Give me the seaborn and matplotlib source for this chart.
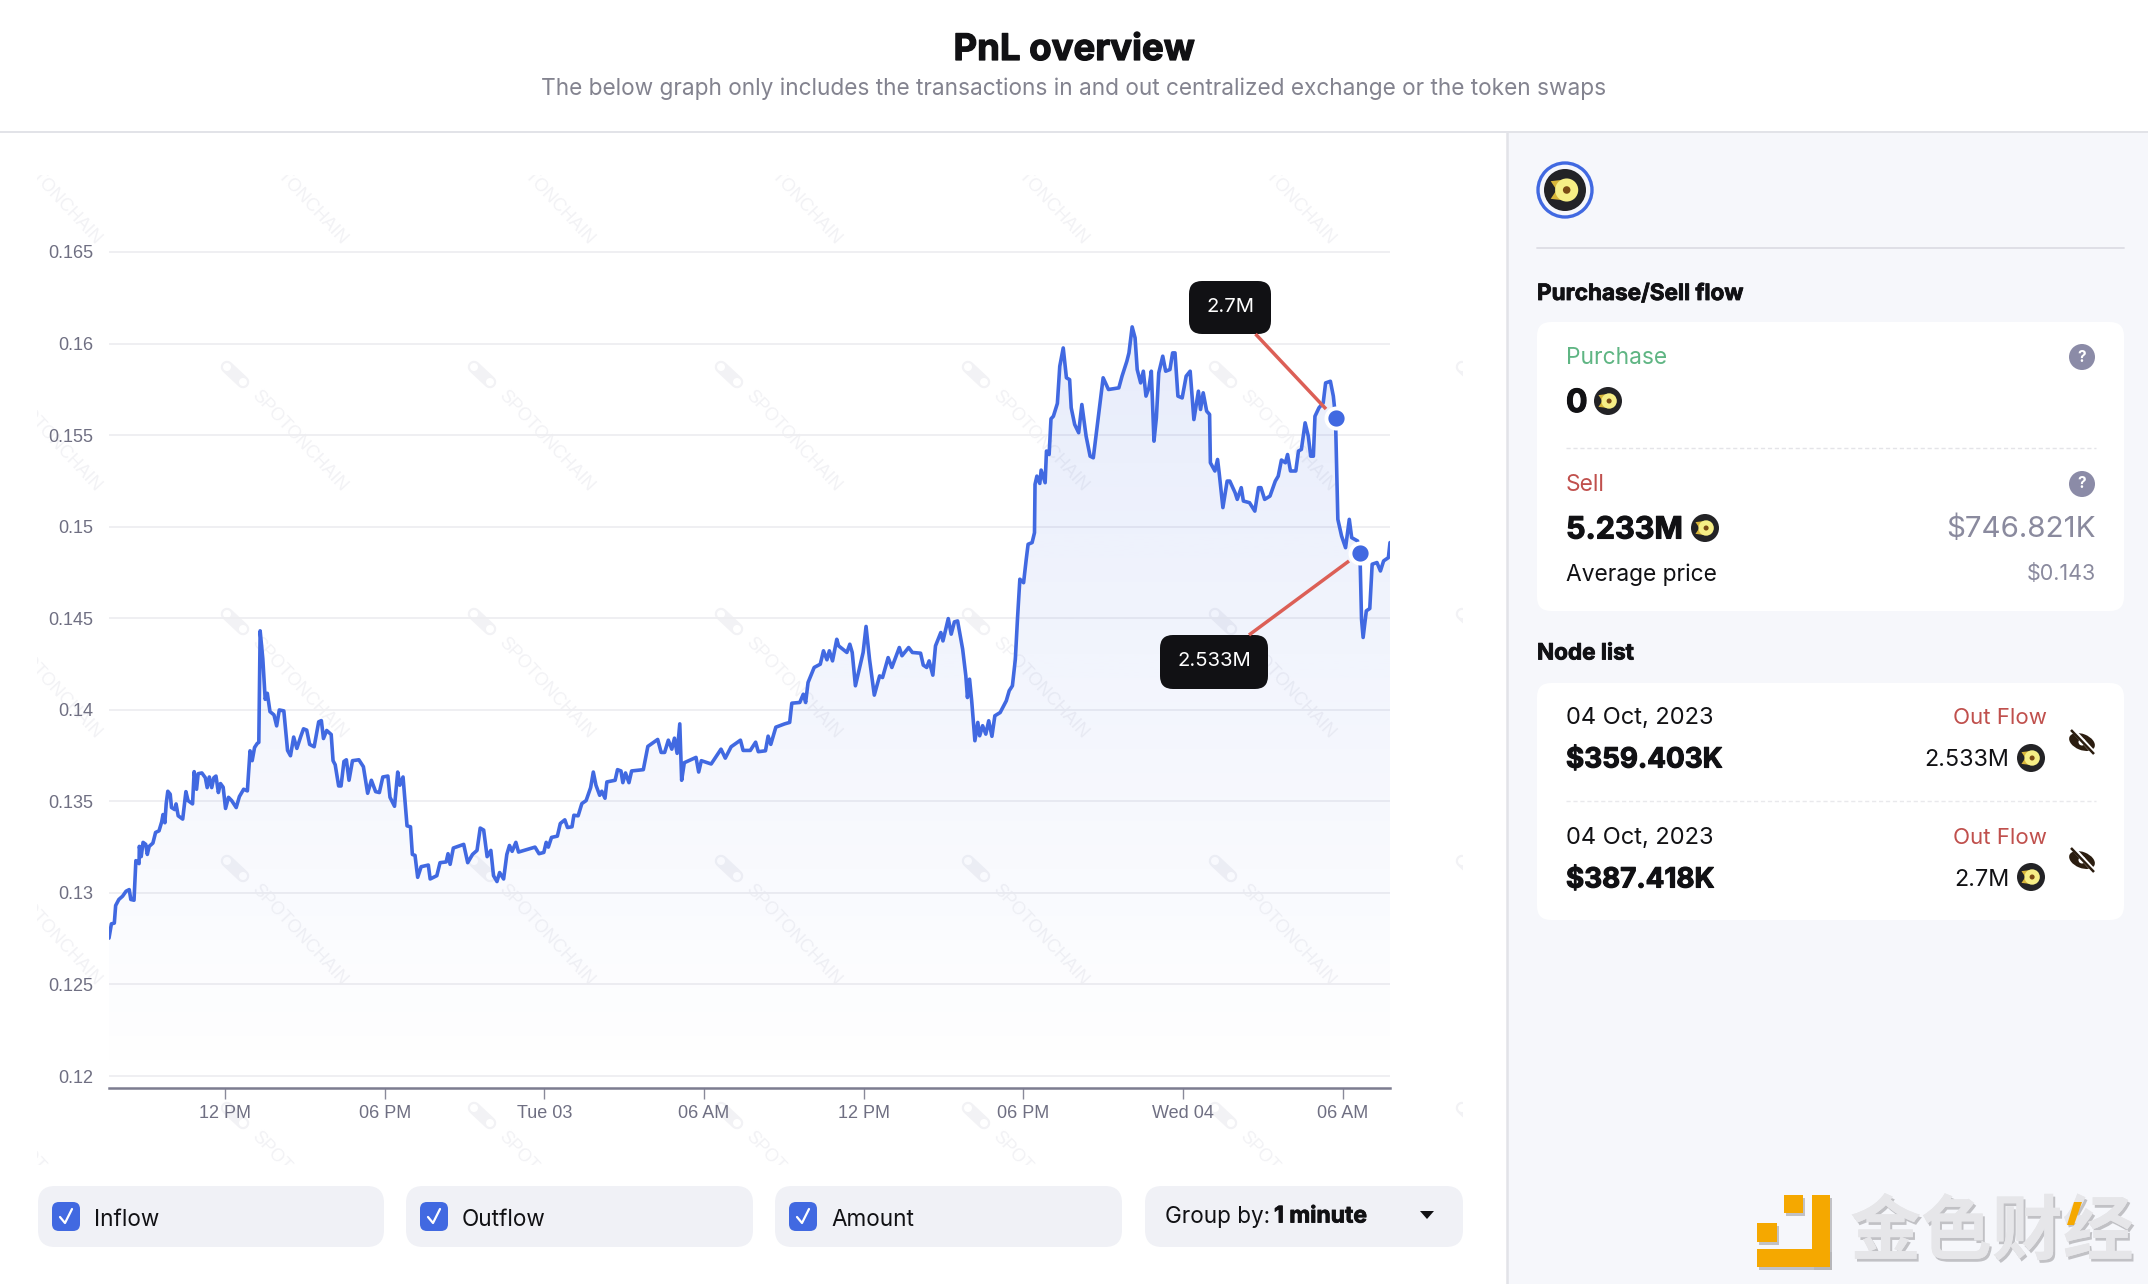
import numpy as np
import pandas as pd
import matplotlib
matplotlib.use("Agg")
import matplotlib.pyplot as plt
import matplotlib.patheffects as pe
import seaborn as sns
from matplotlib.patches import FancyBboxPatch, Circle, Rectangle, Polygon, Ellipse

sns.set_theme(style="white")
plt.rcParams["font.family"] = ["Inter", "DejaVu Sans"]

# hours since Monday 00:00
hours = [
    7.64, 7.73, 7.84, 7.89, 8.01, 8.15, 8.28, 8.40, 8.46, 8.58, 8.65, 8.77, 8.78, 8.85, 8.92, 9.02, 9.08, 9.15, 9.29,
    9.39, 9.52, 9.62, 9.67, 9.74, 9.79, 9.85, 9.94, 9.99, 10.11, 10.16, 10.24, 10.41, 10.53, 10.61, 10.78, 10.84,
    10.93, 10.99, 11.13, 11.26, 11.33, 11.41, 11.50, 11.58, 11.66, 11.75, 11.83, 11.93, 12.02, 12.13, 12.25, 12.42,
    12.54, 12.70, 12.84, 12.94, 13.02, 13.11, 13.21, 13.27, 13.32, 13.42, 13.51, 13.59, 13.69, 13.84, 13.94, 14.04,
    14.21, 14.35, 14.46, 14.58, 14.70, 14.85, 14.95, 15.07, 15.18, 15.35, 15.52, 15.62, 15.70, 15.82, 15.99, 16.06,
    16.14, 16.27, 16.36, 16.47, 16.56, 16.66, 16.79, 17.03, 17.20, 17.36, 17.50, 17.66, 17.80, 17.93, 18.12, 18.20,
    18.37, 18.49, 18.57, 18.69, 18.84, 18.97, 19.04, 19.14, 19.24, 19.37, 19.64, 19.71, 19.96, 20.08, 20.31, 20.38,
    20.46, 20.58, 20.97, 21.12, 21.30, 21.47, 21.59, 21.72, 21.85, 21.99, 22.09, 22.22, 22.32, 22.47, 22.59, 22.69,
    22.79, 22.93, 23.03, 23.65, 23.80, 23.98, 24.07, 24.15, 24.27, 24.49, 24.60, 24.77, 24.87, 25.04, 25.11, 25.27,
    25.41, 25.57, 25.74, 25.84, 25.94, 26.08, 26.16, 26.28, 26.35, 26.66, 26.75, 26.88, 26.95, 27.05, 27.18, 27.28,
    27.72, 27.89, 28.26, 28.39, 28.52, 28.66, 28.79, 28.89, 28.99, 29.09, 29.16, 29.26, 29.70, 29.80, 29.90, 30.27,
    30.64, 30.80, 31.02, 31.37, 31.47, 31.74, 31.94, 32.04, 32.31, 32.41, 32.51, 32.70, 33.03, 33.22, 33.30, 33.60,
    33.73, 33.82, 33.91, 34.14, 34.37, 34.49, 34.62, 34.71, 34.83, 34.99, 35.06, 35.37, 35.48, 35.57, 35.69, 35.98,
    36.09, 36.22, 36.40, 36.60, 36.71, 36.92, 37.06, 37.34, 37.44, 37.69, 37.83, 38.14, 38.24, 38.37, 38.46, 38.60,
    38.70, 38.90, 38.98, 39.18, 39.29, 39.41, 39.53, 39.72, 39.84, 39.90, 39.98, 40.06, 40.18, 40.29, 40.36, 40.47,
    40.59, 40.70, 40.82, 40.93, 41.13, 41.36, 41.47, 41.59, 41.70, 41.78, 41.87, 42.01, 42.11, 42.18, 42.33, 42.42,
    42.44, 42.51, 42.62, 42.67, 42.82, 42.87, 42.97, 43.04, 43.13, 43.28, 43.37, 43.50, 43.62, 43.74, 43.80, 43.93,
    44.08, 44.20, 44.36, 44.51, 44.63, 44.79, 44.91, 45.00, 45.20, 45.59, 45.71, 45.89, 45.97, 46.09, 46.20, 46.28,
    46.41, 46.51, 46.61, 46.72, 46.81, 46.91, 47.00, 47.09, 47.24, 47.35, 47.51, 47.61, 47.70, 47.81, 47.97, 48.12,
    48.27, 48.41, 48.58, 48.66, 48.76, 48.89, 49.00, 49.03, 49.20, 49.30, 49.36, 49.50, 49.66, 49.76, 49.96, 50.04,
    50.19, 50.27, 50.50, 50.70, 50.84, 50.93, 51.07, 51.27, 51.47, 51.58, 51.70, 51.85, 51.93, 52.04, 52.24, 52.34,
    52.45, 52.59, 52.71, 52.80, 52.90, 52.96, 53.11, 53.27, 53.36, 53.54, 53.65, 53.73, 53.82, 53.96, 54.11, 54.25,
    54.34, 54.56, 54.65, 54.71, 54.77, 54.89, 55.02, 55.11, 55.29, 55.42, 55.54, 55.72, 55.78,
]
prices = [
    .12753, .12831, .12835, .12931, .12964, .12982, .13009, .13018, .12964, .12960, .13176, .13160, .13254, .13198,
    .13276, .13265, .13210, .13254, .13272, .13330, .13339, .13388, .13428, .13383, .13488, .13555, .13539, .13466,
    .13455, .13486, .13421, .13403, .13553, .13504, .13486, .13662, .13566, .13651, .13655, .13629, .13575, .13633,
    .13575, .13629, .13638, .13548, .13597, .13577, .13461, .13522, .13504, .13466, .13526, .13566, .13557, .13776,
    .13722, .13794, .13816, .13822, .14431, .14279, .14057, .14090, .13990, .13972, .13912, .13999, .13994, .13778,
    .13749, .13851, .13789, .13856, .13896, .13889, .13811, .13798, .13934, .13941, .13843, .13887, .13865, .13722,
    .13700, .13584, .13584, .13718, .13727, .13615, .13722, .13727, .13689, .13544, .13615, .13553, .13548, .13633,
    .13638, .13522, .13473, .13660, .13588, .13633, .13366, .13361, .13210, .13205, .13085, .13143, .13152, .13076,
    .13094, .13165, .13169, .13214, .13156, .13245, .13265, .13165, .13210, .13232, .13354, .13343, .13198, .13232,
    .13094, .13062, .13111, .13076, .13210, .13259, .13227, .13276, .13223, .13250, .13214, .13221, .13276, .13250,
    .13303, .13310, .13379, .13399, .13357, .13361, .13424, .13421, .13488, .13504, .13575, .13660, .13588, .13533,
    .13555, .13517, .13606, .13615, .13673, .13666, .13602, .13655, .13602, .13666, .13673, .13800, .13838, .13767,
    .13767, .13834, .13785, .13845, .13762, .13923, .13615, .13711, .13740, .13660, .13722, .13704, .13785, .13736,
    .13798, .13834, .13778, .13778, .13823, .13771, .13776, .13856, .13811, .13905, .13923, .13931, .14036, .14040,
    .14085, .14040, .14149, .14231, .14249, .14322, .14273, .14322, .14267, .14385, .14349, .14313, .14358, .14313,
    .14131, .14313, .14455, .14276, .14080, .14185, .14176, .14285, .14231, .14340, .14295, .14340, .14313, .14309,
    .14244, .14231, .14267, .14189, .14349, .14422, .14376, .14498, .14413, .14480, .14485, .14331, .14185, .14067,
    .14167, .14049, .13831, .13931, .13858, .13913, .13867, .13940, .13855, .13967, .13985, .14049, .14104, .14131,
    .14276, .14495, .14713, .14694, .14822, .14904, .14913, .14967, .15231, .15276, .15236, .15309, .15240, .15413,
    .15394, .15589, .15603, .15673, .15876, .15976, .15813, .15803, .15649, .15558, .15513, .15667, .15494, .15385,
    .15376, .15567, .15713, .15813, .15749, .15758, .15822, .15903, .15949, .16091, .16031, .15858, .15785, .15849,
    .15713, .15758, .15849, .15467, .15594, .15840, .15931, .15849, .15858, .15949, .15949, .15713, .15703, .15822,
    .15849, .15585, .15740, .15640, .15731, .15631, .15613, .15349, .15304, .15367, .15294, .15104, .15249, .15249,
    .15185, .15149, .15213, .15140, .15131, .15085, .15213, .15213, .15149, .15167, .15249, .15276, .15364, .15349,
    .15394, .15304, .15304, .15413, .15422, .15567, .15494, .15385, .15385, .15603, .15649, .15676, .15785, .15794,
    .15713, .15603, .15040, .14949, .14885, .15040, .14940, .14922, .14858, .14495, .14395, .14540, .14553, .14795,
    .14804, .14758, .14813, .14831, .14913,
]
node_hours = [53.74, 54.64]
node_prices = [0.15595, 0.14858]

x_ticks = [12, 18, 24, 30, 36, 42, 48, 54]
x_labels = ["12 PM", "06 PM", "Tue 03", "06 AM", "12 PM", "06 PM", "Wed 04", "06 AM"]
y_ticks = [0.12, 0.125, 0.13, 0.135, 0.14, 0.145, 0.15, 0.155, 0.16, 0.165]
y_labels = ["0.12", "0.125", "0.13", "0.135", "0.14", "0.145", "0.15", "0.155", "0.16", "0.165"]
checks = ["Inflow", "Outflow", "Amount"]

BLUE = "#4169e1"
INK = "#111114"
GREY = "#8a8a9e"
RED = "#c0504d"
PANEL = "#f6f7fb"
WM = "#f2f2f5"
W, H = 2148, 1284

fig = plt.figure(figsize=(W / 100, H / 100), dpi=100, facecolor="white")


def pixel_axes(zorder):
    a = fig.add_axes([0, 0, 1, 1], zorder=zorder)
    a.set_xlim(0, W)
    a.set_ylim(H, 0)
    a.axis("off")
    return a


def round_box(a, x0, y0, x1, y1, r, color, **kw):
    a.add_patch(FancyBboxPatch((x0, y0), x1 - x0, y1 - y0, boxstyle=f"round,pad=0,rounding_size={r}",
                               fc=color, ec="none", **kw))


def txt(a, x, y, s, size, color=INK, weight="normal", ha="left", stroke=0.0):
    t = a.text(x, y + 2.5, s, fontsize=size, color=color, fontweight=weight, ha=ha, va="center")
    if stroke:
        t.set_path_effects([pe.withStroke(linewidth=stroke, foreground=color)])
    return t


def token(a, x, y, r):
    a.add_patch(Circle((x, y), r, fc="#232326", ec="none"))
    a.add_patch(Polygon([[x - r * 0.68, y - r * 0.42], [x, y - r * 0.5], [x, y + r * 0.5], [x - r * 0.68, y + r * 0.42],
                         [x - r * 0.4, y]], fc="#d8b63a", ec="none"))
    a.add_patch(Circle((x + r * 0.08, y), r * 0.55, fc="#f6ee86", ec="none"))
    a.add_patch(Circle((x + r * 0.08, y), r * 0.18, fc="#7a4a14", ec="none"))


def question(a, x, y):
    a.add_patch(Circle((x, y), 13, fc="#8b8ba7", ec="none"))
    txt(a, x, y - 2.5, "?", 11, "white", "bold", ha="center")


def eye(a, x, y):
    a.add_patch(Ellipse((x, y), 27, 16, angle=22, fc="#2b1d10", ec="none"))
    a.add_patch(Circle((x, y), 3.5, fc="white", ec="none"))
    a.plot([x - 10, x + 12], [y - 13, y + 11], color="white", lw=3.2, solid_capstyle="butt")
    a.plot([x - 11, x + 12], [y - 12, y + 12], color="#2b1d10", lw=1.8, solid_capstyle="butt")


bg = pixel_axes(0)

# header and side panel
bg.add_patch(Rectangle((1508, 133), W - 1508, H - 133, fc=PANEL, ec="none"))
bg.plot([0, W], [132, 132], color="#e2e3e8", lw=1.4)
bg.plot([1507, 1507], [132, H], color="#e2e3e8", lw=1.8)
txt(bg, 1074, 48, "PnL overview", 26.3, INK, "bold", ha="center", stroke=0.9)
txt(bg, 1074, 86, "The below graph only includes the transactions in and out centralized exchange or the token swaps",
    16.3, "#83838f", ha="center")

# tiled watermark
clip = Rectangle((37, 175), 1426, 990, transform=bg.transData)
for wx in [-19, 227, 474, 721, 968, 1215, 1462]:
    for wy in [120, 367, 614, 861, 1108]:
        band = bg.plot([wx, wx + 16], [wy, wy + 15], color=WM, lw=9, solid_capstyle="round")[0]
        band.set_clip_path(clip)
        for dx, dy in [(0, 0), (16, 15)]:
            c = Circle((wx + dx, wy + dy), 4, fc="white", ec="none", zorder=2)
            bg.add_patch(c)
            c.set_clip_path(clip)
        t = bg.text(wx + 27, wy + 26, "SPOTONCHAIN", fontsize=13, color=WM, rotation=-47,
                    rotation_mode="anchor", ha="left", va="center", family="Liberation Sans")
        t.set_clip_on(True)
        t.set_clip_path(clip)

# chart
ax = fig.add_axes([109 / W, 1 - 1088 / H, 1281 / W, 848 / H], zorder=1)
ax.patch.set_alpha(0)
df = pd.DataFrame({"hours": hours, "price": prices})
nodes = pd.DataFrame({"hours": node_hours, "price": node_prices})

xmin, xmax = hours[0], hours[-1]
ymin, ymax = 0.119345, 0.165655
poly = ax.fill_between(df["hours"], df["price"], ymin, fc="none", ec="none")
grad = np.zeros((256, 1, 4))
grad[..., :3] = matplotlib.colors.to_rgb(BLUE)
grad[:, 0, 3] = np.linspace(0.125, 0.0, 256)
im = ax.imshow(grad, extent=[xmin, xmax, 0.1195, 0.1612], aspect="auto", zorder=1, origin="upper")
im.set_clip_path(poly.get_paths()[0], transform=ax.transData)

sns.lineplot(data=df, x="hours", y="price", ax=ax, estimator=None, sort=False, color=BLUE, linewidth=2.6, zorder=3)
sns.scatterplot(data=nodes, x="hours", y="price", ax=ax, s=210, color=BLUE, edgecolor="white", linewidth=2.8,
                zorder=4, clip_on=False)

ax.set_xlim(xmin, xmax)
ax.set_ylim(ymin, ymax)
ax.set_xticks(x_ticks, x_labels, fontsize=13, color="#6f6f82", family="Liberation Sans")
ax.set_yticks(y_ticks, y_labels, fontsize=13, color="#6f6f82", family="Liberation Sans")
ax.tick_params(axis="x", length=8, width=1, color="#8a8a9a", pad=4, bottom=True)
ax.tick_params(axis="y", length=0, pad=11)
ax.set_xlabel("")
ax.set_ylabel("")
ax.grid(axis="y", color="#eeeef1", lw=1.3)
ax.grid(axis="x", visible=False)
ax.set_axisbelow(True)
for side in ["top", "left", "right"]:
    ax.spines[side].set_visible(False)
ax.spines["bottom"].set_color("#7c7c90")
ax.spines["bottom"].set_linewidth(1.8)

top = pixel_axes(2)
top.patch.set_alpha(0)

# node callouts
top.plot([1255.5, 1326], [334, 409], color="#dc5f56", lw=2.5, solid_capstyle="butt")
top.plot([1249, 1349], [635, 561], color="#dc5f56", lw=2.5, solid_capstyle="butt")
round_box(top, 1189, 281, 1271, 334, 13, INK)
txt(top, 1230, 304, "2.7M", 14.6, "white", ha="center")
round_box(top, 1160, 635, 1268, 689, 13, INK)
txt(top, 1214, 658.5, "2.533M", 14.6, "white", ha="center")

# bottom controls
for x0, x1, label in zip([38, 406, 775], [384, 753, 1122], checks):
    round_box(bg, x0, 1186, x1, 1247, 17, "#f0f1f6")
    round_box(bg, x0 + 14, 1202, x0 + 42, 1231, 7, BLUE)
    bg.plot([x0 + 22, x0 + 27, x0 + 34], [1217, 1223, 1209], color="white", lw=1.6)
    txt(bg, x0 + 56, 1217, label, 16.2)
round_box(bg, 1145, 1186, 1463, 1247, 17, "#f0f1f6")
txt(bg, 1165, 1214, "Group by:", 16.2)
txt(bg, 1274, 1214, "1 minute", 16.5, weight="bold", stroke=0.6)
bg.add_patch(Polygon([[1420, 1211], [1434, 1211], [1427, 1219]], fc=INK, ec="none"))

# side panel: coin
bg.add_patch(Circle((1565, 190), 27, fc="none", ec=BLUE, lw=2.4))
token(bg, 1565, 190, 21)
bg.plot([1537, 2124], [248, 248], color="#dddde4", lw=1.3)

# purchase/sell card
txt(bg, 1537, 291.5, "Purchase/Sell flow", 16.2, weight="bold", stroke=0.6)
round_box(bg, 1537, 322, 2124, 611, 14, "white")
txt(bg, 1566, 355, "Purchase", 16.4, "#5fb583")
question(bg, 2082, 357)
txt(bg, 1566, 401, "0", 23, weight="bold", stroke=0.8)
token(bg, 1608, 401, 14)
bg.plot([1566, 2096], [448, 448], color="#e4e4e8", lw=1, ls=(0, (3, 2)))
txt(bg, 1566, 482.5, "Sell", 16.4, RED)
question(bg, 2082, 484)
txt(bg, 1566, 528, "5.233M", 22, weight="bold", stroke=0.8)
token(bg, 1705, 528, 14)
txt(bg, 2096, 527, "$746.821K", 21.3, GREY, ha="right")
txt(bg, 1566, 572, "Average price", 16.4)
txt(bg, 2096, 572, "$0.143", 15.5, GREY, ha="right")

# node list card
txt(bg, 1537, 651, "Node list", 16.2, weight="bold", stroke=0.6)
round_box(bg, 1537, 683, 2124, 920, 14, "white")
txt(bg, 1566, 716, "04 Oct, 2023", 17)
txt(bg, 2047, 716, "Out Flow", 16, RED, ha="right")
txt(bg, 1566, 758, "$359.403K", 20, weight="bold", stroke=0.8)
txt(bg, 2009, 757, "2.533M", 16.8, ha="right")
token(bg, 2031, 758, 14)
eye(bg, 2082, 742)
bg.plot([1566, 2096], [801, 801], color="#e9e9ec", lw=1, ls=(0, (3, 2)))
txt(bg, 1566, 836, "04 Oct, 2023", 17)
txt(bg, 2047, 836, "Out Flow", 16, RED, ha="right")
txt(bg, 1566, 878, "$387.418K", 20, weight="bold", stroke=0.8)
txt(bg, 2009, 877, "2.7M", 16.8, ha="right")
token(bg, 2031, 877, 14)
eye(bg, 2082, 860)

# corner logo
ORANGE = "#f5a800"
shadow = [pe.withSimplePatchShadow(offset=(1.5, -2), shadow_rgbFace="#b4b4b8", alpha=0.8), pe.Normal()]
for x0, y0, w, h in [(1784, 1195, 19, 18), (1757, 1223, 20, 19), (1812, 1195, 18, 72), (1757, 1249, 73, 18)]:
    p = Rectangle((x0, y0), w, h, fc=ORANGE, ec="none")
    bg.add_patch(p)
    p.set_path_effects(shadow)
mark = bg.text(1992, 1233, "金色财经", fontsize=51, color="#e6e6e9", fontweight="bold", ha="center", va="center",
               family=["Noto Sans CJK SC", "DejaVu Sans"])
mark.set_path_effects(shadow)
bg.add_patch(Polygon([[2074, 1202], [2082, 1202], [2074, 1225], [2067, 1225]], fc=ORANGE, ec="none", zorder=5))

fig.savefig("out.png", dpi=100, facecolor="white")
